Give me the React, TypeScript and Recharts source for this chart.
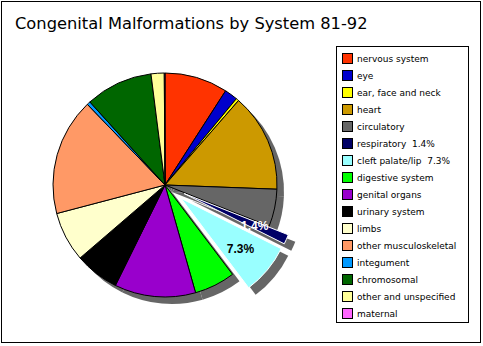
import { PieChart, Pie, Cell, Legend } from "recharts";

// shares in percent, clockwise from 12 o'clock
const CATEGORIES = [
  "nervous system",
  "eye",
  "ear, face and neck",
  "heart",
  "circulatory",
  "respiratory",
  "cleft palate/lip",
  "digestive system",
  "genital organs",
  "urinary system",
  "limbs",
  "other musculoskeletal",
  "integument",
  "chromosomal",
  "other and unspecified",
  "maternal",
];
const SHARES = [9.1, 1.9, 0.4, 14.2, 5.4, 1.4, 7.3, 5.9, 11.7, 6.4, 7.2, 16.9, 0.5, 9.7, 1.9, 0.1];
const COLORS = [
  "#ff3300", "#0000cc", "#ffff00", "#cc9900", "#666666", "#000066", "#99ffff", "#00ff00",
  "#9900cc", "#000000", "#ffffcc", "#ff9966", "#0099ff", "#006600", "#ffff99", "#ff66ff",
];
const EXPLODED = ["respiratory", "cleft palate/lip"];

const CX = 165;
const CY = 185;
const R = 112;
const SHADOW = 7;
const EXPLODE = 21;
const FONT = "'DejaVu Sans', Verdana, sans-serif";

const data = CATEGORIES.map((name, i) => ({ name, value: SHARES[i] }));
const total = SHARES.reduce((a, v) => a + v, 0);

function explodeOffset(i: number) {
  const before = SHARES.slice(0, i).reduce((a, v) => a + v, 0);
  const mid = ((before + SHARES[i] / 2) / total) * 2 * Math.PI;
  return { dx: EXPLODE * Math.sin(mid), dy: -EXPLODE * Math.cos(mid) };
}

const legendText = (i: number) =>
  EXPLODED.includes(CATEGORIES[i]) ? `${CATEGORIES[i]}  ${SHARES[i]}%` : CATEGORIES[i];

const renderLegend = () => (
  <div
    style={{
      border: "1px solid #000",
      width: 131,
      height: 272,
      paddingTop: 3,
      background: "#fff",
      fontFamily: FONT,
      fontSize: 9,
    }}
  >
    {CATEGORIES.map((name, i) => (
      <div key={name} style={{ display: "flex", alignItems: "center", height: 17, marginLeft: 5 }}>
        <span
          style={{ width: 9, height: 9, border: "1px solid #000", background: COLORS[i], marginRight: 4 }}
        />
        <span style={{ whiteSpace: "pre" }}>{legendText(i)}</span>
      </div>
    ))}
  </div>
);

const pieLabel = (idx: number, color: string) => (p: any) => {
  if (p.index !== idx) return null;
  const rad = (-p.midAngle * Math.PI) / 180;
  const r = p.outerRadius * 0.69;
  return (
    <text
      x={p.cx + r * Math.cos(rad)}
      y={p.cy + r * Math.sin(rad) + 1}
      fill={color}
      fontFamily="'Liberation Sans', Arial, sans-serif"
      fontWeight="bold"
      fontSize={12}
      textAnchor="middle"
      dominantBaseline="central"
    >
      {`${SHARES[idx]}%`}
    </text>
  );
};

export default function App() {
  const explodedIdx = EXPLODED.map((n) => CATEGORIES.indexOf(n));
  const common = {
    data,
    dataKey: "value",
    startAngle: 90,
    endAngle: -270,
    outerRadius: R,
    isAnimationActive: false,
    legendType: "none" as const,
  };

  return (
    <div style={{ position: "relative", width: 483, height: 346, background: "#fff" }}>
      <style>{`body{margin:0}`}</style>
      <div
        style={{
          position: "absolute",
          left: 1,
          top: 1,
          width: 480,
          height: 342,
          boxSizing: "border-box",
          border: "1px solid #000",
          pointerEvents: "none",
        }}
      />
      <div
        style={{
          position: "absolute",
          left: 15,
          top: 14,
          fontFamily: FONT,
          fontSize: 16.3,
          color: "#000",
          whiteSpace: "nowrap",
        }}
      >
        Congenital Malformations by System 81-92
      </div>
      <PieChart width={483} height={346} margin={{ top: 0, right: 0, bottom: 0, left: 0 }}>
        <Legend
          layout="vertical"
          align="right"
          verticalAlign="top"
          content={renderLegend}
          wrapperStyle={{ left: 336, top: 46, width: 133, height: 277 }}
        />
        {/* shadow of the unexploded pie */}
        <Pie {...common} cx={CX + SHADOW} cy={CY + SHADOW} stroke="none">
          {data.map((d, i) => (
            <Cell key={d.name} fill={explodedIdx.includes(i) ? "none" : "#666666"} />
          ))}
        </Pie>
        {/* shadows of the exploded slices */}
        {explodedIdx.map((k) => {
          const { dx, dy } = explodeOffset(k);
          return (
            <Pie key={`s${k}`} {...common} cx={CX + SHADOW + dx} cy={CY + SHADOW + dy} stroke="none">
              {data.map((d, i) => (
                <Cell key={d.name} fill={i === k ? "#666666" : "none"} />
              ))}
            </Pie>
          );
        })}
        {/* main pie */}
        <Pie {...common} cx={CX} cy={CY} stroke="#000" strokeWidth={1}>
          {data.map((d, i) => (
            <Cell
              key={d.name}
              fill={explodedIdx.includes(i) ? "none" : COLORS[i]}
              stroke={explodedIdx.includes(i) ? "none" : "#000"}
            />
          ))}
        </Pie>
        {/* exploded slices */}
        {explodedIdx.map((k) => {
          const { dx, dy } = explodeOffset(k);
          return (
            <Pie
              key={`e${k}`}
              {...common}
              cx={CX + dx}
              cy={CY + dy}
              labelLine={false}
              label={pieLabel(k, k === explodedIdx[0] ? "#fff" : "#000")}
            >
              {data.map((d, i) => (
                <Cell
                  key={d.name}
                  fill={i === k ? COLORS[i] : "none"}
                  stroke={i === k ? "#fff" : "none"}
                />
              ))}
            </Pie>
          );
        })}
      </PieChart>
    </div>
  );
}
